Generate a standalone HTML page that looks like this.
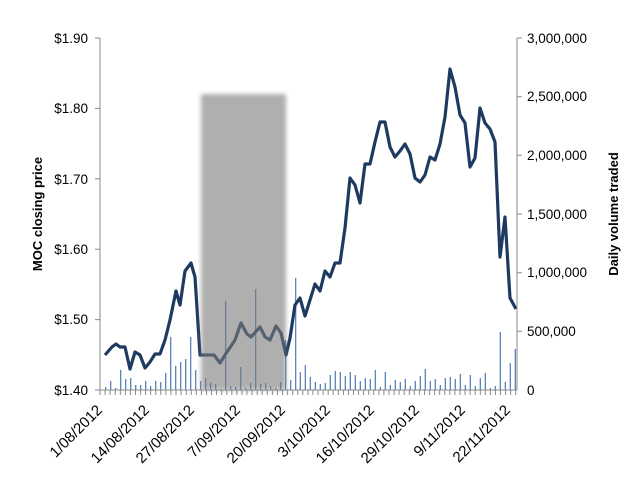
<!DOCTYPE html>
<html><head><meta charset="utf-8"><style>body{margin:0;background:#fff}svg{display:block;font-family:"Liberation Sans",Arial,sans-serif}</style></head><body>
<svg width="643" height="501" viewBox="0 0 643 501">
<defs><filter id="b" x="-10%" y="-5%" width="120%" height="110%"><feGaussianBlur stdDeviation="2"/></filter></defs>
<path stroke="#4a78b5" stroke-width="1.2" fill="none" d="M105.7 390v-3M110.7 390v-9M115.7 390v-2M120.7 390v-20M125.7 390v-11M130.7 390v-12M135.7 390v-5M140.7 390v-5M145.7 390v-9M150.7 390v-4M155.7 390v-9M160.7 390v-8M165.7 390v-17M170.7 390v-53M175.7 390v-24M180.7 390v-28M185.7 390v-31M190.7 390v-53M195.7 390v-20M200.7 390v-9M205.7 390v-12M210.7 390v-7M215.7 390v-6M220.7 390v-1M225.7 390v-89M230.7 390v-4M235.7 390v-3M240.7 390v-23M245.7 390v-2M250.7 390v-7M255.7 390v-101M260.7 390v-6M265.7 390v-7M270.7 390v-4M275.7 390v-2M280.7 390v-8M285.7 390v-50M290.7 390v-10M295.7 390v-112M300.3 390v-18M305.3 390v-25M310.3 390v-13M315.3 390v-8M320.3 390v-6M325.3 390v-7M330.3 390v-15M335.3 390v-19M340.3 390v-18M345.3 390v-14M350.3 390v-18M355.3 390v-15M360.3 390v-9M365.3 390v-12M370.3 390v-11M375.3 390v-20M380.3 390v-3M385.3 390v-18M390.3 390v-5M395.3 390v-10M400.3 390v-8M405.3 390v-11M410.3 390v-4M415.3 390v-9M420.3 390v-14M425.3 390v-21M430.3 390v-9M435.3 390v-11M440.3 390v-5M445.3 390v-12M450.3 390v-13M455.3 390v-11M460.3 390v-16M465.3 390v-5M470.3 390v-15M475.3 390v-4M480.3 390v-12M485.3 390v-17M490.3 390v-2M495.3 390v-4M500.3 390v-58M505.3 390v-8M510.3 390v-27M515.3 390v-41"/>
<polyline fill="none" stroke="#1f3a60" stroke-width="3.2" stroke-linejoin="round" points="105,355 112,347 116,344 120,347 125,347 130,369 135,352 140,355 145,368 150,362 155,354 160,354 165,340 170,320 176,291 180,305 185,271 191,263 195,277 200,355 214,355 220,363 225,355 235,340 241,323 247,334 251,337 260,327 265,337 270,340 276,326 281,333 286,355 290,338 295,305 300,298 305,316 315,284 320,291 325,271 330,277 335,263 340,263 345,228 350,178 355,185 360,203 365,164 370,164 375,142 380,122 385,122 390,147 395,157 400,151 405,144 410,154 415,178 420,182 425,175 430,157 435,160 440,144 445,117 450,69 455,87 460,115 465,123 470,167 475,158 480,108 485,123 490,129 495,142 500,257 505,217 510,298 516,309"/>
<rect x="201" y="94" width="85" height="296" fill="#7b7b7b" fill-opacity="0.6" filter="url(#b)"/>
<g stroke="#888" stroke-width="1" fill="none">
<line x1="100" y1="38" x2="100" y2="390"/><line x1="517" y1="38" x2="517" y2="390"/><line x1="100" y1="390" x2="517" y2="390"/>
<path d="M95 38H100M95 108.4H100M95 178.8H100M95 249.2H100M95 319.6H100M95 390H100M517 38H522M517 96.7H522M517 155.3H522M517 214H522M517 272.7H522M517 331.3H522"/>
<path d="M100 390v5M105.1 390v5M110.1 390v5M115.2 390v5M120.3 390v5M125.4 390v5M130.4 390v5M135.5 390v5M140.6 390v5M145.6 390v5M150.7 390v5M155.8 390v5M160.8 390v5M165.9 390v5M171 390v5M176 390v5M181.1 390v5M186.2 390v5M191.3 390v5M196.3 390v5M201.4 390v5M206.5 390v5M211.5 390v5M216.6 390v5M221.7 390v5M226.8 390v5M231.8 390v5M236.9 390v5M242 390v5M247 390v5M252.1 390v5M257.2 390v5M262.2 390v5M267.3 390v5M272.4 390v5M277.5 390v5M282.5 390v5M287.6 390v5M292.7 390v5M297.7 390v5M302.8 390v5M307.9 390v5M312.9 390v5M318 390v5M323.1 390v5M328.2 390v5M333.2 390v5M338.3 390v5M343.4 390v5M348.4 390v5M353.5 390v5M358.6 390v5M363.6 390v5M368.7 390v5M373.8 390v5M378.9 390v5M383.9 390v5M389 390v5M394.1 390v5M399.1 390v5M404.2 390v5M409.3 390v5M414.3 390v5M419.4 390v5M424.5 390v5M429.6 390v5M434.6 390v5M439.7 390v5M444.8 390v5M449.8 390v5M454.9 390v5M460 390v5M465 390v5M470.1 390v5M475.2 390v5M480.3 390v5M485.3 390v5M490.4 390v5M495.5 390v5M500.5 390v5M505.6 390v5M510.7 390v5M515.7 390v5"/>
</g>
<g font-size="13.5" fill="#000" text-anchor="end">
<text x="88" y="43">$1.90</text><text x="88" y="113">$1.80</text><text x="88" y="184">$1.70</text><text x="88" y="254">$1.60</text><text x="88" y="324">$1.50</text><text x="88" y="395">$1.40</text>
</g>
<g font-size="13.5" fill="#000" text-anchor="start">
<text x="527" y="43">3,000,000</text><text x="527" y="101">2,500,000</text><text x="527" y="160">2,000,000</text><text x="527" y="219">1,500,000</text><text x="527" y="277">1,000,000</text><text x="527" y="336">500,000</text><text x="527" y="395">0</text>
</g>
<text transform="translate(42,214) rotate(-90)" font-size="13" font-weight="bold" text-anchor="middle">MOC closing price</text>
<text transform="translate(618,214) rotate(-90)" font-size="13" font-weight="bold" text-anchor="middle">Daily volume traded</text>
<g font-size="15" text-anchor="end">
<text transform="translate(103,411) rotate(-45)">1/08/2012</text>
<text transform="translate(150,411) rotate(-45)">14/08/2012</text>
<text transform="translate(195,411) rotate(-45)">27/08/2012</text>
<text transform="translate(241,411) rotate(-45)">7/09/2012</text>
<text transform="translate(286,411) rotate(-45)">20/09/2012</text>
<text transform="translate(331,411) rotate(-45)">3/10/2012</text>
<text transform="translate(375,411) rotate(-45)">16/10/2012</text>
<text transform="translate(420,411) rotate(-45)">29/10/2012</text>
<text transform="translate(466,411) rotate(-45)">9/11/2012</text>
<text transform="translate(511,411) rotate(-45)">22/11/2012</text>
</g>
</svg>
</body></html>
